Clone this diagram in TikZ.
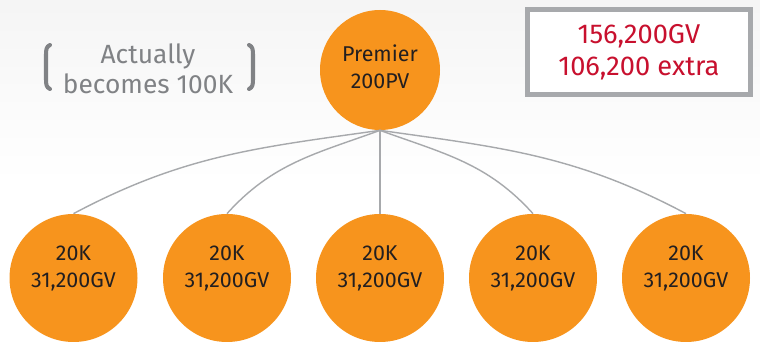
\documentclass[tikz,border=0pt]{standalone}
\usepackage{fontspec}
\setmainfont{Fira Sans}
\definecolor{orangefill}{HTML}{F7941D}
\definecolor{linegrey}{HTML}{A7A9AC}
\definecolor{textgrey}{HTML}{808285}
\definecolor{darktext}{HTML}{231F20}
\definecolor{bonusred}{HTML}{C8102E}
\begin{document}
\begin{tikzpicture}[
    bubble/.style={circle, fill=orangefill, inner sep=0pt},
    bubbletext/.style={text=darktext, align=center, font=\fontsize{12.2}{15.3}\selectfont},
    link/.style={linegrey, line width=0.8pt}
  ]
    % Background
    \useasboundingbox (0,0) rectangle (15.2,7.04);
    \fill[white] (0,0) rectangle (15.2,7.04);
    \shade[top color=black!4, bottom color=white] (0,3.4) rectangle (15.2,7.04);

    % Circles
    \node[bubble, minimum size=2.4cm] (premier) at (7.6,5.64) {};
    \node[bubble, minimum size=2.56cm] (leg1) at (1.47,1.48) {};
    \node[bubble, minimum size=2.56cm] (leg2) at (4.54,1.48) {};
    \node[bubble, minimum size=2.56cm] (leg3) at (7.6,1.48) {};
    \node[bubble, minimum size=2.56cm] (leg4) at (10.66,1.48) {};
    \node[bubble, minimum size=2.56cm] (leg5) at (13.72,1.48) {};

    % Circle texts
    \node[bubbletext] (premiertext) at ([yshift=0.07cm]premier.center) {Premier\\200PV};
    \node[bubbletext] (leg1text) at ([yshift=0.2cm]leg1.center) {20K\\31,200GV};
    \node[bubbletext] (leg2text) at ([yshift=0.2cm]leg2.center) {20K\\31,200GV};
    \node[bubbletext] (leg3text) at ([yshift=0.2cm]leg3.center) {20K\\31,200GV};
    \node[bubbletext] (leg4text) at ([yshift=0.2cm]leg4.center) {20K\\31,200GV};
    \node[bubbletext] (leg5text) at ([yshift=0.2cm]leg5.center) {20K\\31,200GV};

    % Connectors
    \draw[link] (premier.south) to[out=188, in=28] (leg1.north);
    \draw[link] (premier.south) to[out=200, in=48] (leg2.north);
    \draw[link] (premier.south) -- (leg3.north);
    \draw[link] (premier.south) to[out=-20, in=132] (leg4.north);
    \draw[link] (premier.south) to[out=-8, in=152] (leg5.north);

    % Note in brackets
    \node[text=textgrey, align=center, font=\fontsize{15}{17}\selectfont] (note) at (2.96,5.66) {Actually\\becomes 100K};
    \draw[textgrey, line width=2.3pt, line cap=round] (1.0,6.14) to[out=200, in=90] (0.92,5.95) -- (0.92,5.45) to[out=-90, in=160] (1.0,5.26);
    \draw[textgrey, line width=2.3pt, line cap=round] (4.98,6.14) to[out=-20, in=90] (5.06,5.95) -- (5.06,5.45) to[out=-90, in=20] (4.98,5.26);

    % Total box
    \draw[linegrey, line width=2.8pt, fill=white] (10.55,5.15) rectangle (15.01,6.85);
    \node[text=bonusred, align=center, font=\fontsize{15.5}{18}\selectfont] (total) at (12.78,6.0) {156,200GV\\106,200 extra};
\end{tikzpicture}
\end{document}
